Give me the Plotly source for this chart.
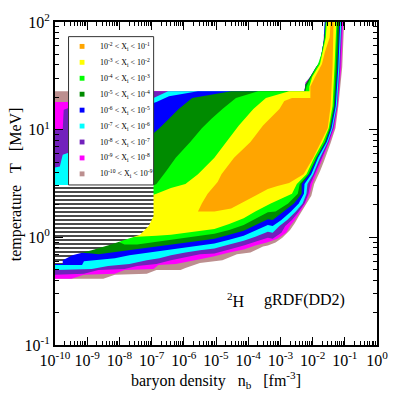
import numpy as np
import plotly.graph_objects as go

# ---------------- data: regions of the 2H mass fraction (log10 n_b [fm^-3], log10 T [MeV]) ----------------
logn_brown = [-10.00, -2.25, -2.22, -2.07, -1.89, -1.77, -1.71, -1.65, -1.65, -1.59, -1.02, -1.08, -1.20, -1.29,
              -1.44, -1.53, -1.65, -1.77, -1.95, -2.04, -2.25, -2.43, -2.55, -2.70, -2.94, -3.15, -3.39, -3.54,
              -3.93, -4.35, -4.80, -5.26, -5.50, -5.95, -6.10, -6.85, -7.15, -8.14, -8.50, -10.00]
logT_brown = [1.356, 1.356, 1.438, 1.492, 1.583, 1.628, 1.719, 1.828, 1.882, 2.000, 2.000, 1.583, 1.220, 1.012,
              0.876, 0.794, 0.704, 0.613, 0.495, 0.386, 0.287, 0.196, 0.132, 0.069, -0.004, -0.049, -0.076, -0.085,
              -0.140, -0.158, -0.212, -0.230, -0.239, -0.285, -0.303, -0.303, -0.339, -0.348, -0.384, -0.384]

logn_magenta = [-10.00, -9.58, -8.65, -2.25, -2.22, -2.07, -1.89, -1.77, -1.71, -1.65, -1.65, -1.59, -1.05, -1.11,
                -1.22, -1.32, -1.47, -1.68, -1.89, -2.01, -2.09, -2.22, -2.37, -2.55, -2.70, -2.82, -3.09, -3.42,
                -3.78, -4.14, -4.59, -5.05, -5.50, -5.95, -6.25, -6.79, -6.94, -7.84, -8.14, -9.10, -9.49, -10.00]
logT_magenta = [1.257, 1.257, 1.356, 1.356, 1.438, 1.492, 1.583, 1.628, 1.719, 1.828, 1.882, 2.000, 2.000, 1.583,
                1.220, 1.012, 0.885, 0.740, 0.586, 0.495, 0.404, 0.314, 0.241, 0.160, 0.105, 0.042, -0.013, -0.049,
                -0.076, -0.112, -0.140, -0.176, -0.203, -0.230, -0.248, -0.257, -0.294, -0.303, -0.339, -0.348,
                -0.384, -0.384]

logn_purple = [-10.00, -9.76, -9.73, -9.58, -7.15, -2.25, -2.22, -2.07, -1.89, -1.77, -1.71, -1.65, -1.62, -1.08,
               -1.14, -1.23, -1.35, -1.50, -1.71, -1.95, -2.07, -2.13, -2.25, -2.43, -2.64, -2.85, -2.97, -3.24,
               -3.39, -3.78, -4.14, -4.59, -5.05, -5.50, -5.95, -6.40, -6.85, -7.45, -7.84, -8.65, -9.10, -10.00]
logT_purple = [0.994, 1.003, 1.184, 1.202, 1.356, 1.356, 1.420, 1.492, 1.583, 1.628, 1.719, 1.828, 2.000, 2.000,
               1.583, 1.220, 1.012, 0.885, 0.740, 0.586, 0.495, 0.404, 0.314, 0.241, 0.160, 0.105, 0.042, -0.013,
               -0.004, -0.040, -0.076, -0.112, -0.149, -0.158, -0.185, -0.212, -0.248, -0.267, -0.294, -0.303,
               -0.339, -0.348]

logn_cyan = [-10.00, -9.85, -9.76, -9.58, -6.94, -6.70, -6.49, -2.25, -2.22, -2.07, -1.89, -1.77, -1.71, -1.65,
             -1.62, -1.11, -1.17, -1.25, -1.38, -1.53, -1.77, -1.98, -2.16, -2.19, -2.31, -2.52, -2.79, -3.03,
             -3.24, -3.39, -3.78, -4.14, -4.59, -5.05, -5.50, -5.95, -6.40, -6.76, -7.15, -7.69, -8.35, -8.86,
             -10.00]
logT_cyan = [0.649, 0.658, 0.767, 0.785, 1.293, 1.329, 1.356, 1.356, 1.420, 1.492, 1.583, 1.628, 1.719, 1.828,
             2.000, 2.000, 1.583, 1.220, 1.012, 0.885, 0.740, 0.586, 0.495, 0.404, 0.314, 0.241, 0.160, 0.105,
             0.042, 0.051, 0.006, -0.031, -0.067, -0.103, -0.121, -0.140, -0.167, -0.194, -0.212, -0.248, -0.267,
             -0.294, -0.303]

logn_blue = [-10.00, -9.40, -8.65, -6.94, -6.85, -6.46, -5.56, -2.25, -2.22, -2.07, -1.89, -1.77, -1.71, -1.65,
             -1.62, -1.14, -1.20, -1.28, -1.41, -1.56, -1.83, -2.04, -2.25, -2.27, -2.43, -2.67, -2.97, -3.24,
             -3.39, -3.78, -4.14, -4.59, -5.05, -5.50, -5.95, -6.40, -6.85, -7.45, -7.69, -8.14, -8.65, -9.10,
             -9.16, -10.00]
logT_blue = [0.404, 0.486, 0.767, 1.248, 1.257, 1.311, 1.356, 1.356, 1.420, 1.492, 1.583, 1.628, 1.719, 1.828,
             2.000, 2.000, 1.583, 1.220, 1.012, 0.885, 0.740, 0.586, 0.495, 0.404, 0.314, 0.241, 0.160, 0.105,
             0.114, 0.060, 0.015, -0.022, -0.058, -0.076, -0.094, -0.112, -0.130, -0.158, -0.167, -0.194, -0.212,
             -0.221, -0.257, -0.257]

logn_dkgreen = [-9.85, -8.65, -6.94, -6.76, -6.46, -6.16, -5.74, -4.53, -2.25, -2.22, -2.07, -1.89, -1.77, -1.71,
                -1.65, -1.59, -1.17, -1.23, -1.31, -1.44, -1.59, -1.86, -2.10, -2.34, -2.34, -2.58, -2.88, -3.24,
                -3.39, -3.78, -4.14, -4.59, -5.05, -5.50, -5.95, -6.40, -6.85, -7.45, -8.14, -8.65, -8.86, -9.25,
                -9.85]
logT_dkgreen = [0.178, 0.486, 0.966, 1.012, 1.102, 1.193, 1.293, 1.356, 1.356, 1.420, 1.492, 1.583, 1.628, 1.719,
                1.828, 2.000, 2.000, 1.583, 1.220, 1.012, 0.885, 0.740, 0.586, 0.495, 0.404, 0.314, 0.241, 0.160,
                0.169, 0.114, 0.060, 0.024, -0.013, -0.031, -0.049, -0.067, -0.085, -0.112, -0.140, -0.158,
                -0.149, -0.140, -0.049]

logn_green = [-8.11, -8.35, -7.45, -6.94, -6.85, -6.55, -6.25, -5.80, -5.44, -5.14, -4.80, -4.38, -3.69, -2.22,
              -2.19, -2.04, -1.83, -1.71, -1.62, -1.59, -1.23, -1.28, -1.34, -1.47, -1.62, -1.89, -2.13, -2.40,
              -2.46, -2.76, -3.15, -3.39, -3.78, -4.14, -4.59, -5.05, -5.50, -5.95, -6.40, -6.85, -7.45, -7.84]
logT_green = [-0.031, 0.042, 0.404, 0.486, 0.495, 0.613, 0.740, 0.885, 1.012, 1.102, 1.193, 1.293, 1.356, 1.356,
              1.402, 1.492, 1.610, 1.719, 1.855, 2.000, 2.000, 1.583, 1.220, 1.012, 0.885, 0.740, 0.586, 0.495,
              0.404, 0.314, 0.241, 0.232, 0.169, 0.114, 0.069, 0.033, 0.015, -0.004, -0.022, -0.040, -0.067, -0.067]

logn_yellow = [-8.05, -7.45, -6.94, -6.85, -6.40, -5.95, -5.56, -5.05, -4.68, -4.29, -3.84, -3.45, -2.73, -2.10,
               -2.10, -2.01, -1.77, -1.68, -1.59, -1.56, -1.26, -1.32, -1.38, -1.50, -1.68, -1.95, -2.19, -2.49,
               -2.64, -3.30, -3.78, -4.14, -4.59, -5.05, -5.50, -5.95, -6.40, -6.85, -7.45]
logT_yellow = [-0.013, 0.314, 0.395, 0.404, 0.459, 0.495, 0.586, 0.740, 0.885, 1.039, 1.193, 1.293, 1.356, 1.356,
               1.402, 1.492, 1.610, 1.719, 1.855, 2.000, 2.000, 1.583, 1.220, 1.012, 0.885, 0.740, 0.586, 0.495,
               0.404, 0.314, 0.241, 0.178, 0.123, 0.078, 0.060, 0.042, 0.024, 0.015, 0.006]

logn_orange = [-1.44, -1.35, -1.38, -1.44, -1.53, -1.74, -1.98, -2.28, -2.73, -3.09, -3.39, -3.78, -4.14, -4.53,
               -5.05, -5.56, -5.44, -5.26, -4.95, -4.83, -4.44, -3.93, -3.54, -3.03, -2.88, -2.64, -2.07, -2.07,
               -1.92, -1.71, -1.62, -1.47]
logT_orange = [2.000, 2.000, 1.583, 1.220, 1.012, 0.885, 0.740, 0.586, 0.504, 0.477, 0.450, 0.386, 0.332, 0.268,
               0.241, 0.241, 0.314, 0.404, 0.513, 0.586, 0.740, 0.885, 1.039, 1.193, 1.266, 1.293, 1.293, 1.402,
               1.492, 1.610, 1.719, 1.855]

# hatched region
logn_hatch = [-10.00, -6.94, -6.94, -7.09, -7.36, -7.81, -8.26, -8.86, -9.46, -9.76, -9.76, -10.00]
logT_hatch = [0.486, 0.486, 0.196, 0.105, 0.024, -0.022, -0.067, -0.121, -0.167, -0.212, -0.248, -0.248]

# legend (from largest to smallest fraction)
legend_labels = ["10<sup>-2</sup> &lt; X<sub>i</sub> &lt; 10<sup>-1</sup>",
                 "10<sup>-3</sup> &lt; X<sub>i</sub> &lt; 10<sup>-2</sup>",
                 "10<sup>-4</sup> &lt; X<sub>i</sub> &lt; 10<sup>-3</sup>",
                 "10<sup>-5</sup> &lt; X<sub>i</sub> &lt; 10<sup>-4</sup>",
                 "10<sup>-6</sup> &lt; X<sub>i</sub> &lt; 10<sup>-5</sup>",
                 "10<sup>-7</sup> &lt; X<sub>i</sub> &lt; 10<sup>-6</sup>",
                 "10<sup>-8</sup> &lt; X<sub>i</sub> &lt; 10<sup>-7</sup>",
                 "10<sup>-9</sup> &lt; X<sub>i</sub> &lt; 10<sup>-8</sup>",
                 "10<sup>-10</sup> &lt; X<sub>i</sub> &lt; 10<sup>-9</sup>"]
legend_colors = ["#FFA500", "#FFFF00", "#00FF00", "#008B00", "#0000FF", "#00FFFF", "#7221BC", "#FF00FF", "#BC8F8F"]

regions = [  # drawn outermost first
    (logn_brown, logT_brown, "#BC8F8F"),
    (logn_magenta, logT_magenta, "#FF00FF"),
    (logn_purple, logT_purple, "#7221BC"),
    (logn_cyan, logT_cyan, "#00FFFF"),
    (logn_blue, logT_blue, "#0000FF"),
    (logn_dkgreen, logT_dkgreen, "#008B00"),
    (logn_green, logT_green, "#00FF00"),
    (logn_yellow, logT_yellow, "#FFFF00"),
    (logn_orange, logT_orange, "#FFA500"),
]

FONT = "Liberation Serif, Times New Roman, serif"
W, H = 399, 397
ML, MR, MT, MB = 55, 11, 14, 52
PW, PH = W - ML - MR, H - MT - MB


def px(x):
    return (x - ML) / PW


def py(y):
    return (H - MB - y) / PH


fig = go.Figure()
for ln, lt, col in regions:
    fig.add_trace(go.Scatter(x=np.power(10.0, ln), y=np.power(10.0, lt), mode="lines", fill="toself",
                             fillcolor=col, line=dict(width=0, color=col), showlegend=False, hoverinfo="skip"))

fig.add_trace(go.Scatter(x=np.power(10.0, logn_hatch), y=np.power(10.0, logT_hatch), mode="lines", fill="toself",
                         fillcolor="white", line=dict(width=0, color="white"),
                         fillpattern=dict(shape="-", size=4, solidity=0.4, fgcolor="#1a1a1a", bgcolor="white",
                                          fillmode="replace"),
                         showlegend=False, hoverinfo="skip"))

shapes = []
annotations = []
# legend box
shapes.append(dict(type="rect", xref="paper", yref="paper", x0=px(69), x1=px(157), y0=py(181), y1=py(29),
                   fillcolor="white", line=dict(color="#333333", width=1), layer="above"))
for i, (lab, col) in enumerate(zip(legend_labels, legend_colors)):
    yc = 39 + 16.33 * i
    shapes.append(dict(type="rect", xref="paper", yref="paper", x0=px(80.5), x1=px(85.5), y0=py(yc + 2.5),
                       y1=py(yc - 2.5), fillcolor=col, line=dict(width=0), layer="above"))
    annotations.append(dict(xref="paper", yref="paper", x=px(99), y=py(yc), xanchor="left", yanchor="middle",
                            text=lab, showarrow=False, font=dict(family=FONT, size=8, color="black")))

annotations.append(dict(xref="paper", yref="paper", x=px(231), y=py(299), xanchor="left", yanchor="middle",
                        text="<sup>2</sup>H", showarrow=False, font=dict(family=FONT, size=16, color="black")))
annotations.append(dict(xref="paper", yref="paper", x=px(269), y=py(299), xanchor="left", yanchor="middle",
                        text="gRDF(DD2)", showarrow=False, font=dict(family=FONT, size=16, color="black")))
# axis titles
annotations.append(dict(xref="paper", yref="paper", x=px(221), y=py(381), xanchor="center", yanchor="middle",
                        text="baryon density\u00a0\u00a0\u00a0n<sub>b</sub>\u00a0\u00a0\u00a0[fm<sup>-3</sup>]",
                        showarrow=False, font=dict(family=FONT, size=16, color="black")))
annotations.append(dict(xref="paper", yref="paper", x=px(15), y=py(180), xanchor="center", yanchor="middle",
                        textangle=-90, text="temperature\u00a0\u00a0\u00a0T\u00a0\u00a0\u00a0[MeV]",
                        showarrow=False, font=dict(family=FONT, size=16, color="black")))

xt = [10.0 ** k for k in range(-10, 1)]
yt = [10.0 ** k for k in range(-1, 3)]
axis_common = dict(type="log", showgrid=False, zeroline=False, showline=True, linecolor="black", linewidth=2,
                   mirror="ticks", ticks="inside", ticklen=8, tickwidth=1, tickcolor="black",
                   tickfont=dict(family=FONT, size=16, color="black"),
                   minor=dict(ticks="inside", ticklen=4, tickwidth=1, tickcolor="black", dtick="D1",
                              showgrid=False))

fig.update_layout(
    width=W, height=H, margin=dict(l=ML, r=MR, t=MT, b=MB),
    paper_bgcolor="white", plot_bgcolor="white",
    xaxis=dict(range=[-10, 0], tickmode="array", tickvals=xt,
               ticktext=["10<sup>%d</sup>" % k for k in range(-10, 1)], **axis_common),
    yaxis=dict(range=[-1, 2], tickmode="array", tickvals=yt,
               ticktext=["10<sup>%d</sup>" % k for k in range(-1, 3)], **axis_common),
    shapes=shapes, annotations=annotations,
)

fig.write_html("out.html")
